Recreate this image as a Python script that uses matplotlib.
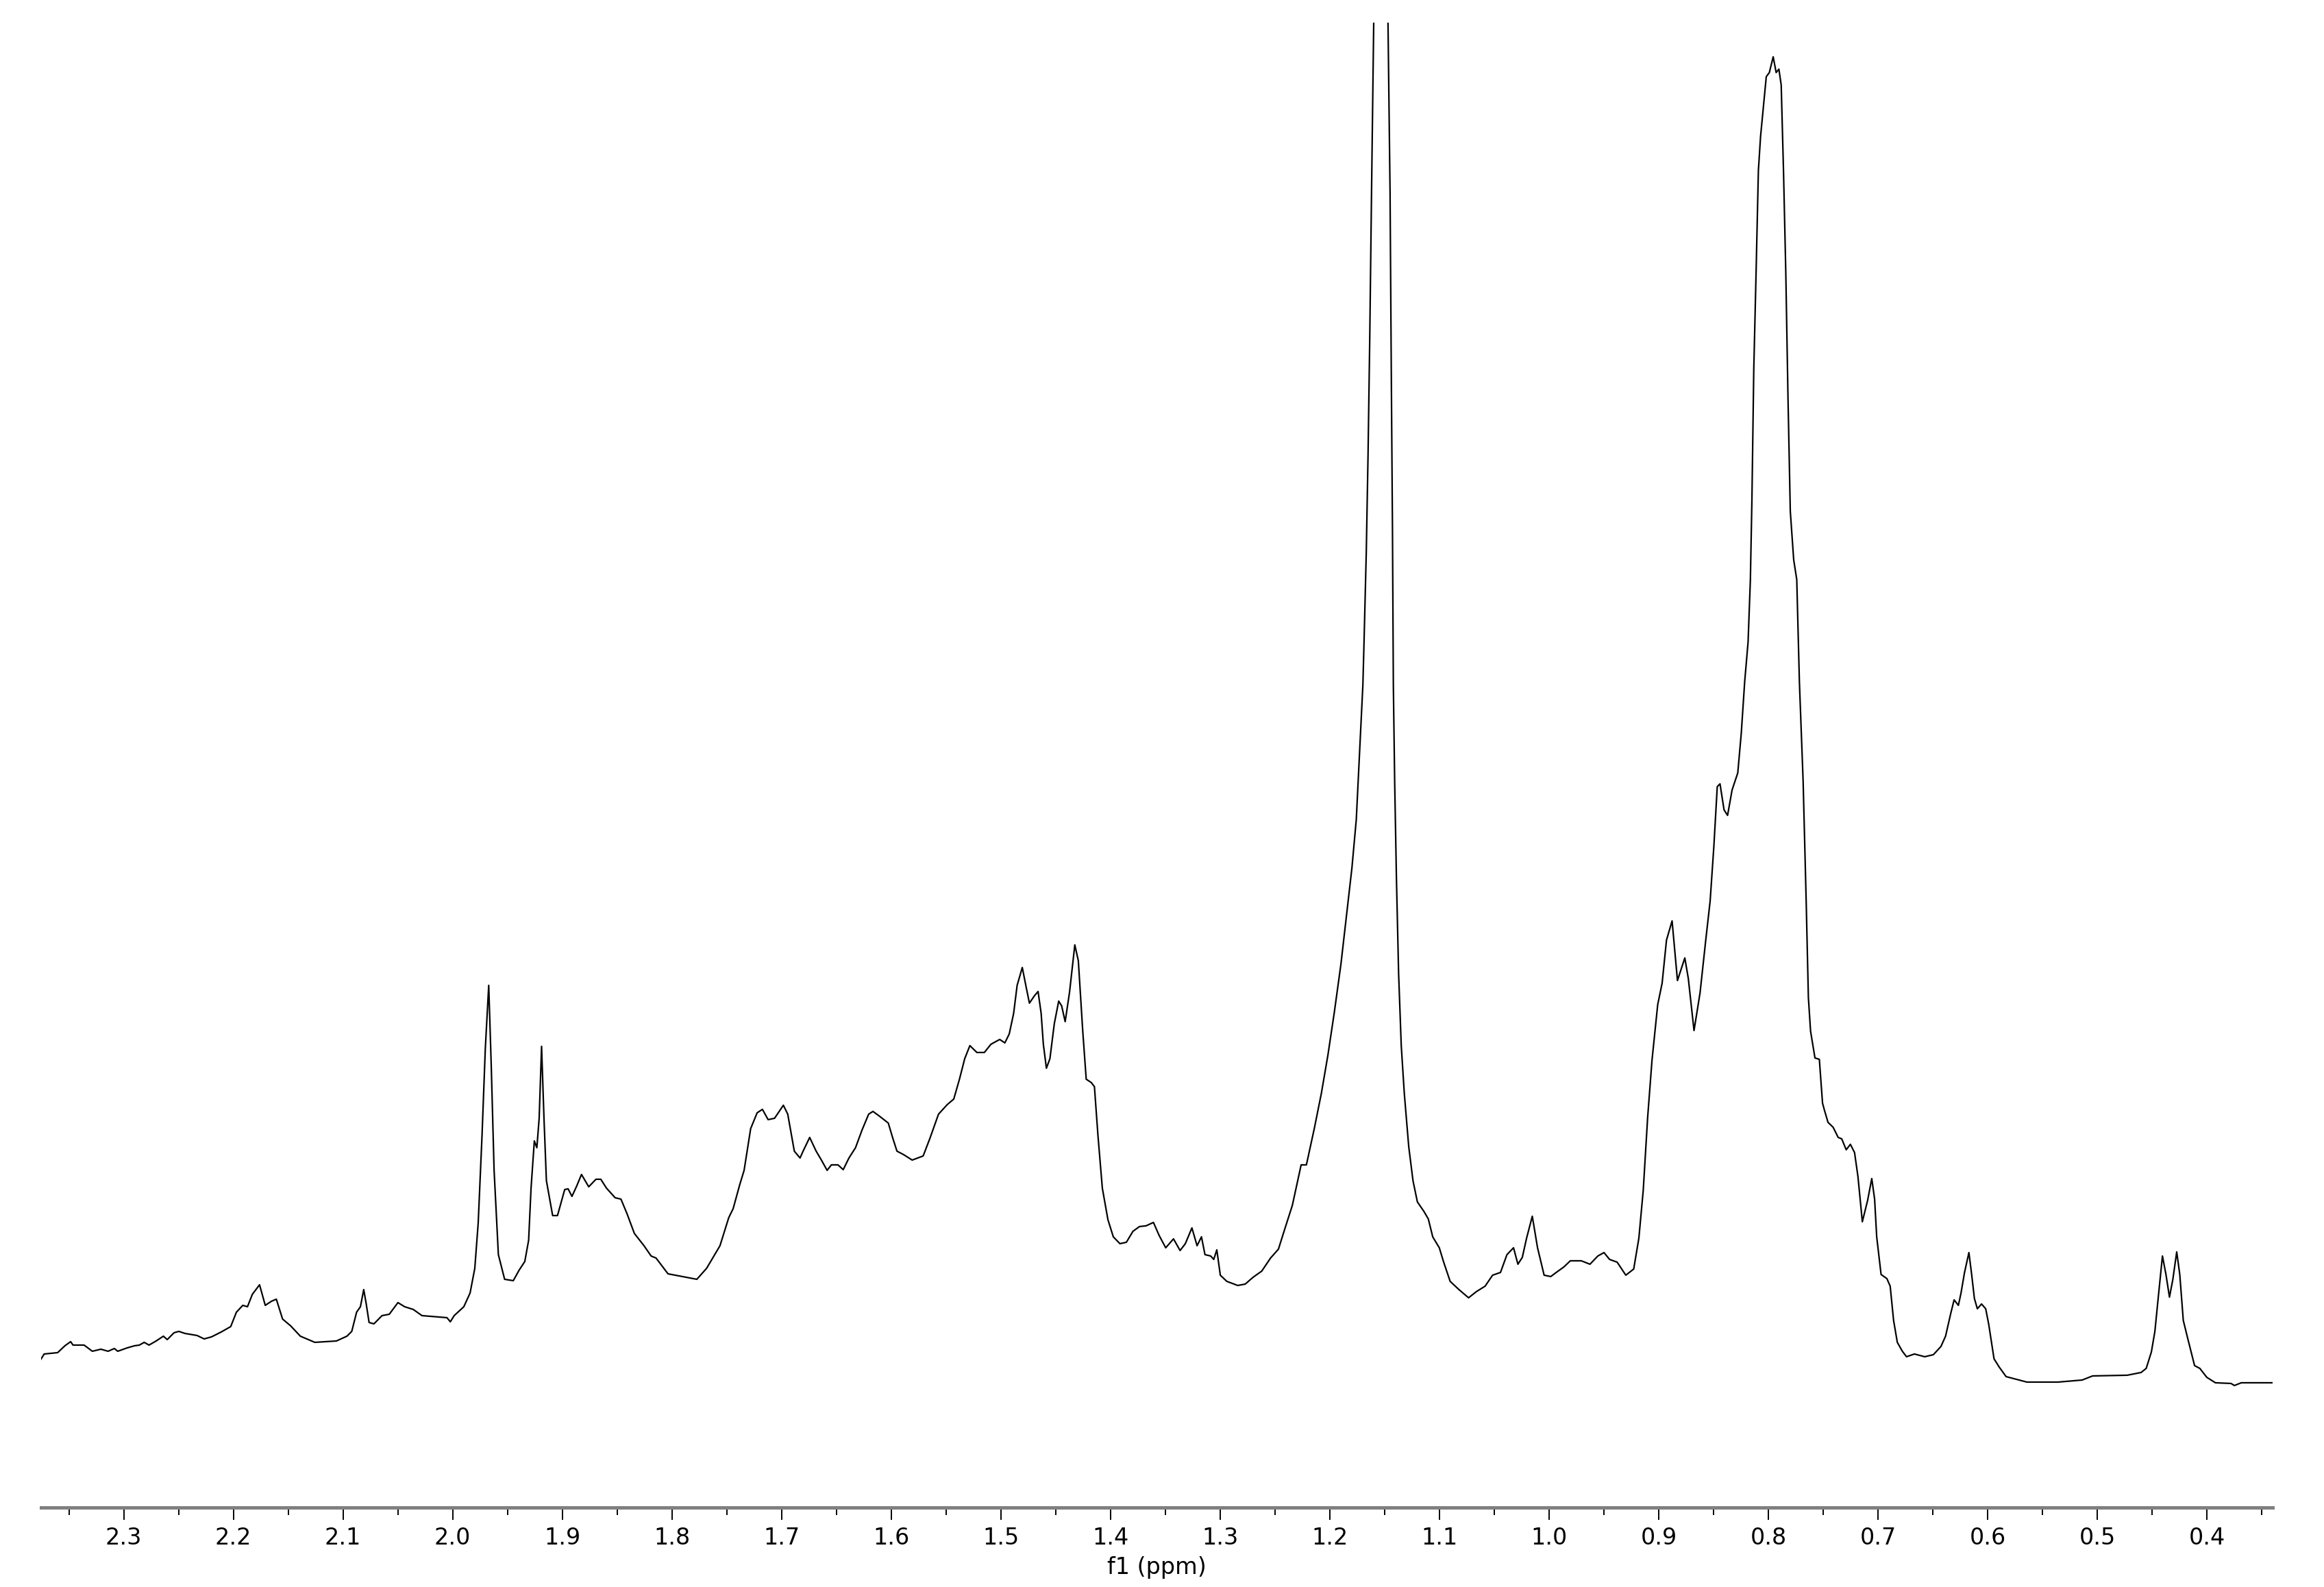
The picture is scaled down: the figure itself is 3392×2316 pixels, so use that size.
import numpy as np
import matplotlib
matplotlib.use("Agg")
import matplotlib.pyplot as plt
from matplotlib.ticker import MultipleLocator, FormatStrFormatter

# --- spectrum (chemical shift in ppm, relative intensity) ---
ppm = [
    2.3756, 2.3725, 2.3602, 2.3536, 2.3484, 2.3462, 2.3361, 2.3286, 2.3208, 2.3142,
    2.3085, 2.3054, 2.2967, 2.2901, 2.2857, 2.2813, 2.2769, 2.2704, 2.2638, 2.2603,
    2.2541, 2.2497, 2.2441, 2.2331, 2.2266, 2.2199, 2.2112, 2.2024, 2.1972, 2.1914,
    2.1871, 2.1827, 2.1761, 2.1709, 2.1652, 2.1608, 2.1551, 2.1477, 2.1389, 2.1257,
    2.1060, 2.0964, 2.0920, 2.0876, 2.0841, 2.0811, 2.0789, 2.0762, 2.0718, 2.0644,
    2.0578, 2.0499, 2.0438, 2.0359, 2.0280, 2.0052, 2.0021, 1.9986, 1.9898, 1.9841,
    1.9798, 1.9767, 1.9732, 1.9702, 1.9671, 1.9648, 1.9622, 1.9583, 1.9526, 1.9447,
    1.9395, 1.9342, 1.9307, 1.9285, 1.9255, 1.9232, 1.9211, 1.9189, 1.9167, 1.9145,
    1.9088, 1.9044, 1.8978, 1.8947, 1.8912, 1.8869, 1.8825, 1.8759, 1.8693, 1.8649,
    1.8597, 1.8518, 1.8465, 1.8408, 1.8343, 1.8255, 1.8190, 1.8145, 1.8036, 1.7905,
    1.7773, 1.7684, 1.7562, 1.7482, 1.7442, 1.7382, 1.7342, 1.7282, 1.7223, 1.7175,
    1.7123, 1.7064, 1.6984, 1.6944, 1.6884, 1.6832, 1.6804, 1.6744, 1.6685, 1.6637,
    1.6585, 1.6546, 1.6486, 1.6438, 1.6386, 1.6326, 1.6266, 1.6206, 1.6167, 1.6107,
    1.6027, 1.5988, 1.5948, 1.5888, 1.5809, 1.5709, 1.5649, 1.5569, 1.5489, 1.5430,
    1.5378, 1.5330, 1.5283, 1.5219, 1.5151, 1.5091, 1.5011, 1.4964, 1.4924, 1.4884,
    1.4852, 1.4805, 1.4773, 1.4740, 1.4693, 1.4661, 1.4633, 1.4613, 1.4585, 1.4553,
    1.4513, 1.4473, 1.4446, 1.4414, 1.4374, 1.4326, 1.4294, 1.4254, 1.4222, 1.4175,
    1.4147, 1.4115, 1.4075, 1.4024, 1.3975, 1.3915, 1.3856, 1.3796, 1.3736, 1.3677,
    1.3609, 1.3557, 1.3497, 1.3426, 1.3366, 1.3318, 1.3258, 1.3211, 1.3171, 1.3139,
    1.3087, 1.3059, 1.3031, 1.2999, 1.2940, 1.2840, 1.2772, 1.2700, 1.2621, 1.2541,
    1.2469, 1.2414, 1.2342, 1.2262, 1.2214, 1.2142, 1.2078, 1.2018, 1.1959, 1.1899,
    1.1859, 1.1799, 1.1759, 1.1731, 1.1699, 1.1690, 1.1668, 1.1652, 1.1636, 1.1620,
    1.1533, 1.1451, 1.1439, 1.1429, 1.1421, 1.1409, 1.1393, 1.1373, 1.1349, 1.1321,
    1.1281, 1.1242, 1.1202, 1.1142, 1.1102, 1.1062, 1.1002, 1.0962, 1.0903, 1.0823,
    1.0735, 1.0664, 1.0584, 1.0516, 1.0444, 1.0385, 1.0325, 1.0285, 1.0245, 1.0206,
    1.0154, 1.0106, 1.0046, 0.9986, 0.9927, 0.9866, 0.9807, 0.9707, 0.9628, 0.9556,
    0.9500, 0.9449, 0.9380, 0.9301, 0.9229, 0.9182, 0.9142, 0.9102, 0.9062, 0.9010,
    0.8970, 0.8930, 0.8879, 0.8830, 0.8763, 0.8731, 0.8679, 0.8624, 0.8572, 0.8532,
    0.8498, 0.8467, 0.8442, 0.8405, 0.8373, 0.8332, 0.8280, 0.8248, 0.8217, 0.8186,
    0.8165, 0.8151, 0.8134, 0.8113, 0.8092, 0.8072, 0.8040, 0.8020, 0.7992, 0.7957,
    0.7930, 0.7905, 0.7884, 0.7863, 0.7842, 0.7822, 0.7801, 0.7770, 0.7742, 0.7718,
    0.7684, 0.7656, 0.7636, 0.7616, 0.7576, 0.7536, 0.7507, 0.7490, 0.7457, 0.7411,
    0.7364, 0.7332, 0.7291, 0.7253, 0.7215, 0.7184, 0.7144, 0.7096, 0.7058, 0.7032,
    0.7013, 0.6973, 0.6920, 0.6890, 0.6859, 0.6825, 0.6779, 0.6741, 0.6669, 0.6575,
    0.6496, 0.6427, 0.6385, 0.6338, 0.6307, 0.6268, 0.6244, 0.6212, 0.6172, 0.6147,
    0.6122, 0.6095, 0.6057, 0.6019, 0.5991, 0.5943, 0.5896, 0.5833, 0.5738, 0.5643,
    0.5360, 0.5139, 0.5044, 0.4729, 0.4602, 0.4555, 0.4508, 0.4476, 0.4445, 0.4407,
    0.4375, 0.4343, 0.4312, 0.4277, 0.4249, 0.4217, 0.4177, 0.4114, 0.4066, 0.4003,
    0.3924, 0.3782, 0.3751, 0.3688, 0.3403,
]

intensity = [
    216, 224, 226, 236, 242, 237, 237, 228, 231, 228,
    232, 228, 233, 236, 237, 241, 237, 243, 250, 245,
    255, 257, 254, 251, 246, 249, 256, 264, 285, 295,
    293, 311, 325, 295, 301, 304, 275, 265, 250, 241,
    243, 250, 257, 285, 293, 318, 298, 270, 268, 280,
    282, 299, 293, 289, 280, 277, 271, 280, 293, 313,
    349, 415, 543, 670, 762, 645, 492, 369, 333, 331,
    346, 359, 390, 466, 535, 525, 568, 673, 568, 477,
    426, 426, 464, 465, 454, 469, 486, 468, 479, 479,
    466, 452, 450, 428, 400, 382, 367, 364, 341, 337,
    333, 349, 382, 423, 436, 471, 492, 553, 576, 581,
    566, 568, 587, 574, 520, 510, 520, 540, 520, 507,
    492, 500, 500, 493, 510, 525, 551, 574, 578, 571,
    561, 540, 520, 515, 507, 513, 538, 574, 588, 596,
    625, 655, 674, 664, 664, 676, 683, 678, 691, 721,
    762, 788, 762, 736, 747, 753, 721, 676, 641, 655,
    706, 739, 732, 709, 752, 821, 798, 696, 625, 620,
    614, 543, 466, 420, 395, 385, 387, 403, 410, 411,
    416, 397, 379, 392, 375, 385, 408, 382, 395, 369,
    367, 362, 376, 339, 330, 324, 326, 336, 345, 364,
    377, 405, 441, 500, 500, 553, 604, 660, 723, 793,
    849, 933, 1004, 1095, 1200, 1253, 1393, 1534, 1709, 1919,
    3000, 1919, 1639, 1428, 1200, 1060, 919, 779, 674, 604,
    527, 477, 446, 432, 421, 395, 379, 358, 330, 318,
    306, 315, 323, 339, 343, 369, 379, 355, 365, 393,
    425, 379, 339, 337, 344, 351, 360, 360, 355, 367,
    372, 362, 358, 339, 348, 393, 463, 569, 653, 734,
    765, 828, 856, 769, 802, 772, 696, 751, 828, 885,
    965, 1052, 1056, 1018, 1010, 1047, 1072, 1130, 1205, 1263,
    1354, 1470, 1661, 1802, 1951, 2001, 2055, 2088, 2094, 2117,
    2094, 2099, 2076, 1951, 1802, 1620, 1454, 1383, 1354, 1205,
    1060, 884, 744, 695, 656, 654, 590, 580, 562, 555,
    540, 538, 522, 530, 518, 483, 417, 448, 480, 450,
    395, 340, 334, 323, 273, 241, 228, 220, 224, 220,
    223, 235, 250, 283, 303, 295, 313, 343, 372, 340,
    305, 290, 297, 290, 267, 217, 205, 191, 187, 183,
    183, 186, 192, 193, 197, 203, 227, 257, 307, 367,
    340, 307, 333, 373, 340, 273, 247, 207, 203, 190,
    182, 181, 178, 182, 182,
]

x_left, x_right = 2.3755, 0.340
y_top = 2167

fig = plt.figure(figsize=(16.96, 11.58), dpi=200)
ax = fig.add_axes([0.0176, 0.0501, 0.9604, 0.9357])

ax.plot(ppm, intensity, color='black', linewidth=0.8)

ax.set_xlim(x_left, x_right)
ax.set_ylim(0, y_top)

# only the bottom axis is shown, like in the NMR software export
for side in ['top', 'left', 'right']:
    ax.spines[side].set_visible(False)
ax.spines['bottom'].set_color('#808080')
ax.spines['bottom'].set_linewidth(1.8)
ax.set_yticks([])

ax.xaxis.set_major_locator(MultipleLocator(0.1))
ax.xaxis.set_minor_locator(MultipleLocator(0.05))
ax.xaxis.set_major_formatter(FormatStrFormatter('%.1f'))
ax.tick_params(axis='x', which='major', direction='out', length=6.5, width=0.7,
               color='black', labelsize=12, pad=3.5)
ax.tick_params(axis='x', which='minor', direction='out', length=4, width=0.7,
               color='black')

ax.set_xlabel('f1 (ppm)', fontsize=12)
ax.xaxis.set_label_coords(0.5, -0.033)

fig.savefig('out.png', dpi=200)
